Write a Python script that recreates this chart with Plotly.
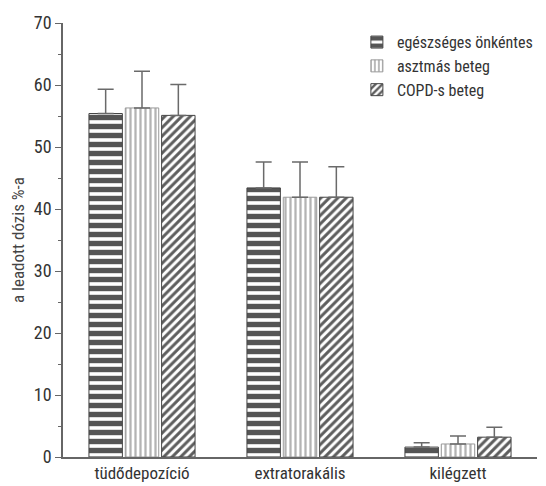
import plotly.graph_objects as go

categories = ["tüdődepozíció", "extratorakális", "kilégzett"]
series_names = ["egészséges önkéntes", "asztmás beteg", "COPD-s beteg"]
healthy = [55.4, 43.4, 1.6]
healthy_err = [3.9, 4.2, 0.7]
asthma = [56.3, 41.9, 2.1]
asthma_err = [5.9, 5.7, 1.3]
copd = [55.1, 41.9, 3.2]
copd_err = [5.0, 4.9, 1.6]
y_ticks = [0, 10, 20, 30, 40, 50, 60, 70]

FONT = "Liberation Sans Narrow, Roboto Condensed, Open Sans, sans-serif"

styles = [
    dict(shape="-", fg="#555555", line="#444444", size=9, sol=0.6),
    dict(shape="|", fg="#b3b3b3", line="#9a9a9a", size=5, sol=0.45),
    dict(shape="/", fg="#5e5e5e", line="#444444", size=6, sol=0.5),
]
data = [(healthy, healthy_err), (asthma, asthma_err), (copd, copd_err)]

fig = go.Figure()
for name, (vals, errs), st in zip(series_names, data, styles):
    fig.add_trace(go.Bar(
        x=categories, y=vals, name=name,
        marker=dict(color="white",
                    line=dict(color=st["line"], width=1),
                    pattern=dict(shape=st["shape"], fgcolor=st["fg"], bgcolor="white",
                                 size=st["size"], solidity=st["sol"], fillmode="replace")),
        error_y=dict(type="data", array=errs, arrayminus=[0] * len(errs), symmetric=False,
                     color="#6a6a6a", thickness=1.5, width=8),
    ))

fig.update_layout(
    width=538, height=478,
    margin=dict(l=55, r=9, t=15, b=29, autoexpand=False),
    paper_bgcolor="white", plot_bgcolor="white",
    barmode="group", bargap=0.31, bargroupgap=0.08,
    font=dict(family=FONT, size=17, color="#333333"),
    showlegend=True,
    legend=dict(x=0.62, y=0.995, xanchor="left", yanchor="top",
                bgcolor="rgba(0,0,0,0)", font=dict(size=16, color="#333333"),
                itemwidth=30, tracegroupgap=0),
    xaxis=dict(showline=True, linecolor="#666666", linewidth=1.5, ticks="",
               tickfont=dict(size=17, color="#333333"), showgrid=False,
               range=[-0.5, 2.5], automargin=False),
    yaxis=dict(range=[0, 70], tickvals=y_ticks, showline=True, linecolor="#666666",
               linewidth=1.5, ticks="outside", ticklen=6, tickcolor="#666666",
               showgrid=False, zeroline=False, automargin=False,
               tickfont=dict(size=18, color="#333333"),
               minor=dict(dtick=5, ticks="outside", ticklen=3, tickcolor="#666666"),
               title=dict(text="a leadott dózis %-a", font=dict(size=17, color="#444444"),
                          standoff=8)),
)

fig.write_html("out.html")
